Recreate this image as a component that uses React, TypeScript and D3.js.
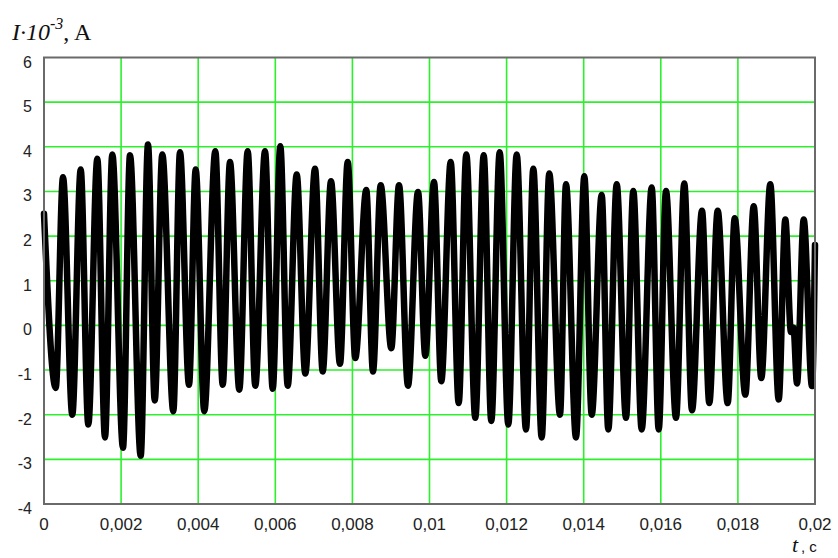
import React from 'react';
import * as d3 from 'd3';

// time, s (peaks and troughs)
const timeSec = [
  0, 0.000304, 0.000493, 0.000734, 0.000952, 0.001149, 0.001383, 0.001582, 0.001772, 0.002049,
  0.002231, 0.002508, 0.002698, 0.002872, 0.003069, 0.003354, 0.003528, 0.003761, 0.003935, 0.004158,
  0.004444, 0.004636, 0.004825, 0.005066, 0.005284, 0.005481, 0.005733, 0.005933, 0.00613, 0.006322,
  0.006555, 0.006778, 0.00703, 0.00723, 0.007445, 0.007678, 0.007878, 0.008075, 0.00836, 0.008534,
  0.008734, 0.009009, 0.009209, 0.009442, 0.009702, 0.009891, 0.010117, 0.010306, 0.01055, 0.010757,
  0.010955, 0.011188, 0.011406, 0.011603, 0.011821, 0.012044, 0.012262, 0.012503, 0.012693, 0.01291,
  0.013107, 0.013385, 0.013541, 0.0138, 0.014016, 0.014208, 0.014467, 0.014638, 0.014856, 0.015097,
  0.015287, 0.015504, 0.015764, 0.015946, 0.016135, 0.016394, 0.016609, 0.016809, 0.017069, 0.017258,
  0.017476, 0.017735, 0.017917, 0.018192, 0.01841, 0.018607, 0.01884, 0.019058, 0.01923, 0.019377,
  0.019442, 0.019533, 0.019707, 0.019922, 0.02,
];

// current, 10^-3 A
const currentKA = [
  2.5, -1.4, 3.32, -2.0, 3.49, -2.22, 3.73, -2.51, 3.83, -2.74,
  3.81, -2.92, 4.05, -1.68, 3.83, -1.92, 3.88, -1.33, 3.49, -1.92,
  3.9, -1.33, 3.66, -1.44, 3.9, -1.35, 3.9, -1.42, 4.01, -1.35,
  3.38, -1.08, 3.51, -1.03, 3.23, -0.86, 3.66, -0.73, 3.03, -1.03,
  3.14, -0.51, 3.14, -1.35, 2.99, -0.68, 3.21, -1.25, 3.66, -1.74,
  3.83, -2.07, 3.81, -2.14, 3.88, -2.22, 3.83, -2.33, 3.51, -2.51,
  3.4, -2.0, 3.16, -2.51, 3.34, -2.0, 2.92, -2.33, 3.16, -2.07,
  3.01, -2.33, 3.09, -2.33, 3.01, -2.07, 3.18, -1.9, 2.57, -1.74,
  2.57, -1.74, 2.4, -1.55, 2.67, -1.18, 3.16, -1.66, 2.37, -0.15,
  -0.05, -1.3, 2.37, -1.36, 1.8,
];

const xTicks = [0, 0.002, 0.004, 0.006, 0.008, 0.01, 0.012, 0.014, 0.016, 0.018, 0.02];
const yTicks = [-4, -3, -2, -1, 0, 1, 2, 3, 4, 5, 6];

const W = 838;
const H = 558;
const left = 44;
const right = 815;
const top = 57.5;
const bottom = 504;

const App = () => {
  const x = d3.scaleLinear().domain([0, 0.02]).range([left, right]);
  const y = d3.scaleLinear().domain([-4, 6]).range([bottom, top]);

  const points = timeSec.map((t, i) => [t, currentKA[i]] as [number, number]);
  const line = d3
    .line<[number, number]>()
    .x(d => x(d[0]))
    .y(d => y(d[1]))
    .curve(d3.curveMonotoneX);

  const fmt = (v: number) => String(v).replace('.', ',');
  const green = '#2cf02c';
  const sans = 'Liberation Sans, Arial, sans-serif';
  const serif = 'Liberation Serif, Times New Roman, serif';

  return (
    <svg width={W} height={H} style={{ position: 'absolute', left: 0, top: 0, background: '#fff' }}>
      {/* grid */}
      {xTicks.slice(1, -1).map(t => (
        <line key={'gx' + t} x1={x(t)} x2={x(t)} y1={top} y2={bottom} stroke={green} strokeWidth={1.6} />
      ))}
      {yTicks.slice(1, -1).map(v => (
        <line key={'gy' + v} x1={left} x2={right} y1={y(v)} y2={y(v)} stroke={green} strokeWidth={1.6} />
      ))}

      {/* signal */}
      <path
        d={line(points) || ''}
        fill="none"
        stroke="#000"
        strokeWidth={6.5}
        strokeLinejoin="round"
        strokeLinecap="round"
      />

      {/* frame */}
      <rect x={left} y={top} width={right - left} height={bottom - top} fill="none" stroke="#6a6a6a" strokeWidth={2} />

      {/* tick labels */}
      {yTicks.map(v => (
        <text key={'ly' + v} x={32} y={y(v) + 10} textAnchor="end" fontFamily={sans} fontSize={16} fill="#222">
          {v}
        </text>
      ))}
      {xTicks.map(t => (
        <text key={'lx' + t} x={x(t)} y={530} textAnchor="middle" fontFamily={sans} fontSize={17} fill="#222">
          {fmt(t)}
        </text>
      ))}

      {/* axis titles */}
      <text x={12} y={39.5} fontFamily={serif} fontSize={24} fill="#111">
        <tspan fontStyle="italic">I·10</tspan>
        <tspan fontStyle="italic" fontSize={16} dy={-11}>-3</tspan>
        <tspan dy={11}>, A</tspan>
      </text>
      <text x={792} y={552} fontFamily={serif} fontSize={22} fontStyle="italic" fill="#111">
        t
      </text>
      <text x={801} y={552} fontFamily={sans} fontSize={15} fill="#111">
        , c
      </text>
    </svg>
  );
};

export default App;
